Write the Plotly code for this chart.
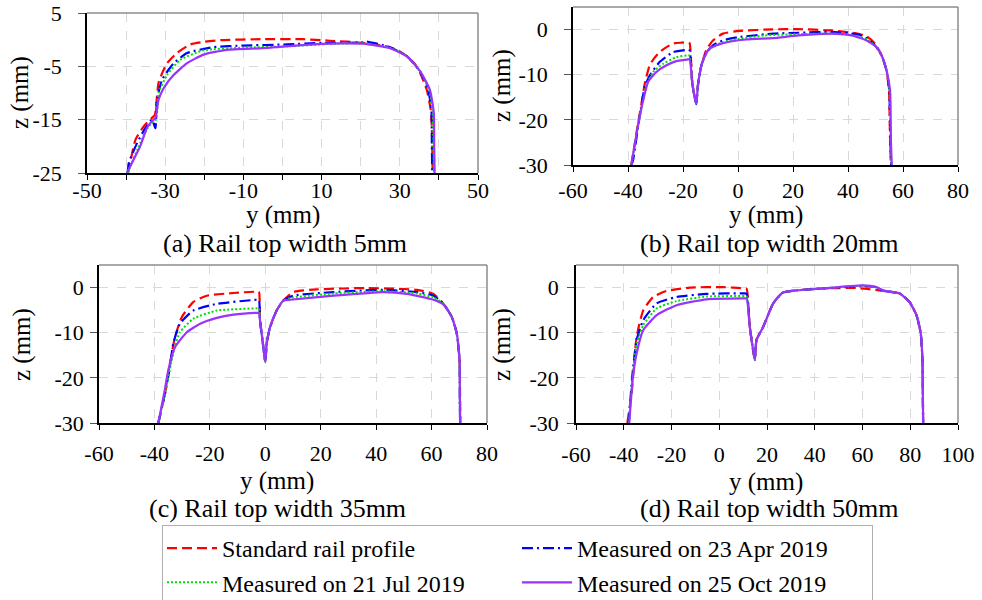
import plotly.graph_objects as go

# ---------------- data (y = lateral position, z = height, mm) ----------------
SERIES_NAMES = ["Standard rail profile", "Measured on 23 Apr 2019",
                "Measured on 21 Jul 2019", "Measured on 25 Oct 2019"]
PANEL_CAPTIONS = ["(a) Rail top width 5mm", "(b) Rail top width 20mm",
                  "(c) Rail top width 35mm", "(d) Rail top width 50mm"]

# Panel (a) 5 mm
A_STD_Y = [-39.5, -38.8, -37.6, -35.5, -33.6, -33.0, -32.6, -31.7, -30.5, -29.5, -27.0, -23.6, -20, -15.9, -5, 5, 12.1, 20.7, 26.6, 29.5, 31.8, 33.8, 35.2, 36.9, 37.9, 38.2, 38.3, 38.4]
A_STD_Z = [-25, -22.5, -18.75, -16.25, -14.8, -14.4, -14.0, -8.1, -5.8, -4.4, -2.5, -0.9, -0.4, -0.1, 0.1, 0.1, -0.2, -0.6, -1.25, -2.0, -3.1, -4.5, -6.25, -9.4, -13.1, -16.5, -20, -25]
A_APR_Y = [-39.6, -39.3, -37.2, -35.1, -33.4, -32.5, -32.3, -32.1, -30.8, -29.0, -27.8, -24.4, -17.6, -10, 1.2, 10, 20.5, 21, 27, 31.8, 35.2, 37.3, 38.1, 38.2, 38.3]
A_APR_Z = [-25, -23.1, -19.4, -16.6, -15.0, -16.6, -14, -11.25, -7.5, -5.5, -4.4, -2.5, -1.4, -1.1, -0.9, -0.6, -0.5, -0.3, -1.3, -3.1, -6.0, -9.5, -13.5, -20, -25]
A_JUL_Y = [-39.6, -38.9, -36.4, -34.5, -33.0, -32.3, -31.7, -29.5, -26.1, -20.2, -10, 1.2, 12, 20.7, 27.3, 31.8, 35.2, 37.5, 38.4, 38.6, 38.7]
A_JUL_Z = [-25, -23.75, -19.4, -16.6, -15.3, -15.0, -10, -6.6, -3.75, -2.0, -1.5, -1.25, -0.8, -0.7, -1.5, -3.1, -6.0, -9.5, -13.5, -20, -25]
A_OCT_Y = [-39.8, -38.1, -36.4, -34.7, -33.4, -32.5, -31.7, -30.4, -27.8, -24.4, -20.2, -14.2, -5, 0, 10, 15, 20.7, 27.5, 31.8, 35.2, 37.7, 38.7, 38.8, 38.9]
A_OCT_Z = [-25, -22.5, -20, -16.6, -15.3, -14.7, -11.25, -9.1, -6.6, -4.4, -2.8, -1.9, -1.6, -1.3, -0.8, -0.7, -0.75, -1.6, -3.1, -5.9, -9.4, -13.75, -20, -25]

# Panel (b) 20 mm
B_STD_Y = [-38.8, -37.6, -36.4, -35.2, -33.9, -32.1, -30.3, -28.5, -26, -23.6, -20.5, -18.2, -17.6, -16.6, -15.2, -14.5, -13.3, -11.5, -9.1, -5.5, 0.6, 12.7, 21.9, 34, 42.5, 46.8, 49.8, 52.2, 54, 54.9, 55.3, 55.6]
B_STD_Z = [-30, -25.5, -20.9, -16.8, -12, -7.9, -6.2, -5, -3.9, -3.1, -2.9, -2.8, -3.0, -12, -16.3, -12, -7.9, -4.5, -2.4, -0.9, -0.3, 0.05, 0.1, -0.2, -0.8, -1.5, -3.1, -5.7, -9, -13.5, -24.6, -30]
B_APR_Y = [-38.8, -38.2, -35.8, -33.9, -32.1, -28.5, -23.6, -18.2, -17.6, -16.6, -15.2, -14.5, -13.3, -11.5, -9.1, -5.5, 0, 12.7, 22, 34, 43.7, 47, 49.8, 52.2, 54, 55, 55.4, 55.7]
B_APR_Z = [-30, -29, -19.4, -12.7, -10.2, -7.2, -5, -4.5, -4.6, -12, -16.5, -12, -7.9, -5.1, -3.5, -2.4, -1.7, -0.9, -0.7, -0.5, -1.1, -2.0, -3.5, -5.7, -9, -13.5, -24.6, -30]
B_JUL_Y = [-38.8, -36, -33.3, -30.9, -27.3, -22.4, -18.2, -17.6, -16.6, -15.2, -14.5, -13.3, -11.5, -9.1, -5.5, 0, 9.8, 22, 34, 43, 47, 50, 52.2, 54, 55.1, 55.5, 55.8]
B_JUL_Z = [-30, -20, -12.4, -9.4, -7.6, -6.1, -5.7, -5.8, -12, -16.3, -12, -7.9, -5.1, -3.8, -2.8, -2.1, -1.3, -1.0, -0.9, -1.4, -2.2, -3.7, -5.7, -9, -13.5, -24.6, -30]
B_OCT_Y = [-38.8, -35.8, -33.9, -32.7, -29.7, -26, -22.4, -18.2, -17.6, -16.6, -15.2, -14.5, -13.3, -12.7, -10.3, -5.5, 3, 12.7, 22, 34, 41.3, 46.8, 50.4, 52.2, 54, 55.3, 55.6, 55.9]
B_OCT_Z = [-30, -19.4, -14.2, -11.6, -9.4, -7.9, -7, -6.6, -6.5, -12, -16.3, -12, -7.9, -6.8, -4.2, -3, -2.2, -1.9, -1.3, -0.9, -1.3, -2.4, -3.9, -5.7, -9, -13.5, -24.6, -30]

# Panel (c) 35 mm
C_STD_Y = [-38.6, -36.2, -34.4, -32.6, -30.1, -26, -21.1, -11.5, -3.1, -2.3, -1.9, -0.7, 0, 0.5, 1.7, 4.1, 6.5, 10.1, 18.6, 36.6, 54.7, 60.7, 64.3, 67.3, 69.1, 70.1, 70.3, 70.4]
C_STD_Z = [-30, -23.5, -16.8, -11, -6.5, -3.2, -1.8, -1.2, -0.9, -0.9, -7.3, -13.2, -16.5, -12.4, -8.8, -5.1, -2.9, -1.0, -0.4, -0.1, -0.5, -1.4, -3.6, -6.5, -10.2, -16.1, -25, -30]
C_APR_Y = [-38.6, -36.2, -34.4, -33.2, -30.8, -26, -17.5, -3.1, -2.3, -1.9, -0.7, 0, 0.5, 1.7, 4.1, 6.5, 10.1, 24.6, 42.6, 54.7, 60.7, 64.3, 67.3, 69.1, 70.1, 70.2, 70.3]
C_APR_Z = [-30, -23.5, -17.5, -12.4, -8, -5.1, -3.6, -2.7, -2.7, -7.3, -13.2, -16.5, -12.4, -8.8, -5.1, -2.9, -1.8, -1.0, -0.5, -1.0, -1.8, -3.6, -6.5, -10.2, -16.1, -25, -30]
C_JUL_Y = [-38.6, -36.2, -34.4, -32.6, -30.8, -26, -17.5, -3.1, -2.3, -1.9, -0.7, 0, 0.5, 1.7, 4.1, 6.5, 10.1, 24.6, 42.6, 54.7, 60.7, 64.3, 67.3, 69.1, 70.1, 70.2, 70.3]
C_JUL_Z = [-30, -23.5, -18, -13, -9.9, -6.9, -5.1, -4.6, -4.6, -7.3, -13.2, -16.5, -12.4, -8.8, -5.1, -2.9, -2.2, -1.3, -0.8, -1.3, -2.2, -3.6, -6.5, -10.2, -16.1, -25, -30]
C_OCT_Y = [-38.6, -36.2, -35, -32.6, -28.3, -23.5, -17.5, -11.5, -3.1, -2.3, -1.9, -0.7, 0, 0.5, 1.7, 4.1, 6.5, 9, 24.6, 42.6, 51.1, 60.7, 64.3, 67.3, 69.1, 70.1, 70.2, 70.3]
C_OCT_Z = [-30, -22.5, -18.3, -13.2, -9.9, -8, -6.7, -6, -5.6, -5.6, -7.3, -13.2, -16.5, -12.4, -8.8, -5.1, -2.9, -2.7, -1.8, -1.0, -1.4, -2.7, -3.8, -6.5, -10.2, -16.1, -25, -30]

# Panel (d) 50 mm
D_STD_Y = [-38.5, -36.7, -34.6, -31.8, -27.7, -22.1, -12.3, 1.6, 10.7, 11.5, 12.8, 14.9, 15.6, 18.4, 22.6, 26.7, 43.5, 57.4, 62, 68.6, 75.6, 79.7, 82.6, 84.4, 85.1, 85.3, 85.4]
D_STD_Z = [-30, -23.4, -10.9, -5, -2.1, -0.75, 0, 0.1, -0.2, -0.3, -8.7, -16, -11.6, -8.7, -3.5, -1.1, -0.2, -0.1, -0.3, -0.75, -1.3, -3.2, -6.1, -10.2, -16, -25, -30]
D_APR_Y = [-37.9, -36.5, -34.6, -31.8, -26.2, -17.9, -5.3, 10.7, 11.5, 12.8, 14.9, 15.6, 18.4, 22.6, 26.7, 43.5, 60.2, 65.8, 68.6, 75.6, 79.7, 82.6, 84.4, 85.1, 85.3, 85.4]
D_APR_Z = [-30, -20, -11.6, -7.2, -3.5, -2.1, -1.4, -1.3, -1.4, -8.7, -16, -11.6, -8.7, -3.5, -1.1, -0.2, 0.3, 0.1, -0.7, -1.3, -3.2, -6.1, -10.2, -16, -25, -30]
D_JUL_Y = [-37.8, -36.3, -34.6, -31.8, -26.2, -17.9, -5.3, 10.7, 11.5, 12.8, 14.9, 15.6, 18.4, 22.6, 26.7, 43.5, 60.2, 65.8, 68.6, 75.6, 79.7, 82.6, 84.4, 85.1, 85.3, 85.4]
D_JUL_Z = [-30, -20, -12.5, -8.3, -4.6, -3, -2, -1.9, -2, -8.7, -16, -11.6, -8.7, -3.5, -1.1, -0.2, 0.4, 0.1, -0.6, -1.3, -3.2, -6.1, -10.2, -16, -25, -30]
D_OCT_Y = [-37.7, -36.2, -34.6, -31.8, -26.2, -17.9, -5.3, 10.7, 11.5, 12.8, 14.9, 15.6, 18.4, 22.6, 26.7, 43.5, 60.2, 65.8, 68.6, 75.6, 79.7, 82.6, 84.4, 85.1, 85.3, 85.4]
D_OCT_Z = [-30, -20, -14.6, -9.4, -6.1, -3.9, -2.6, -2.4, -2.4, -8.7, -16, -11.6, -8.7, -3.5, -1.1, -0.2, 0.5, 0.1, -0.6, -1.3, -3.2, -6.1, -10.2, -16, -25, -30]

# axis ticks
A_XTICKS = [-50, -40, -30, -20, -10, 0, 10, 20, 30, 40, 50]
A_XLABELS = ["-50", "", "-30", "", "-10", "", "10", "", "30", "", "50"]
A_YTICKS = [5, -5, -15, -25]
A_YLABELS = ["5", "-5", "-15", "-25"]
B_XTICKS = [-60, -40, -20, 0, 20, 40, 60, 80]
C_XTICKS = [-60, -40, -20, 0, 20, 40, 60, 80]
D_XTICKS = [-60, -40, -20, 0, 20, 40, 60, 80, 100]
BCD_YTICKS = [0, -10, -20, -30]

# ---------------- styling ----------------
FONT = "Times New Roman, Liberation Serif, DejaVu Serif, serif"
STYLES = [
    dict(color="#FF0000", width=2.2, dash="10px,5px"),
    dict(color="#0000FF", width=2.2, dash="11px,4px,2px,4px"),
    dict(color="#00E000", width=2, dash="2px,2px"),
    dict(color="#9933FF", width=2.2, dash="solid"),
]

panels = [
    [(A_STD_Y, A_STD_Z), (A_APR_Y, A_APR_Z), (A_JUL_Y, A_JUL_Z), (A_OCT_Y, A_OCT_Z)],
    [(B_STD_Y, B_STD_Z), (B_APR_Y, B_APR_Z), (B_JUL_Y, B_JUL_Z), (B_OCT_Y, B_OCT_Z)],
    [(C_STD_Y, C_STD_Z), (C_APR_Y, C_APR_Z), (C_JUL_Y, C_JUL_Z), (C_OCT_Y, C_OCT_Z)],
    [(D_STD_Y, D_STD_Z), (D_APR_Y, D_APR_Z), (D_JUL_Y, D_JUL_Z), (D_OCT_Y, D_OCT_Z)],
]

W, H = 982, 600
# plot-area pixel boxes (left, right, top, bottom)
BOXES = [(87, 478, 13, 173), (573, 958, 7, 165), (99, 487, 265, 423), (576, 958, 265, 423)]
X_STANDOFF = [-8, 0, 5, 6]
Y_STANDOFF = [12, 12, 2, 4]

fig = go.Figure()
for p, series in enumerate(panels):
    ax = "" if p == 0 else str(p + 1)
    for s, (yy, zz) in enumerate(series):
        fig.add_trace(go.Scatter(
            x=yy, y=zz, mode="lines", name=SERIES_NAMES[s],
            line=dict(**STYLES[s], shape="spline", smoothing=0.5),
            xaxis="x" + ax, yaxis="y" + ax,
            showlegend=(p == 0), legendgroup=SERIES_NAMES[s]))

def xaxis(p, rng, vals, texts):
    l, r, t, b = BOXES[p]
    return dict(domain=[l / W, r / W], range=rng, tickvals=vals, ticktext=texts,
                showgrid=True, gridcolor="#D9D9D9", griddash="dash", gridwidth=1,
                showline=True, linecolor="black", linewidth=1.5, mirror=False,
                ticks="outside", ticklen=5, tickcolor="black", zeroline=False,
                ticklabelstandoff=X_STANDOFF[p],
                tickfont=dict(family=FONT, size=22, color="black"))

def yaxis(p, rng, vals, texts, anchor):
    l, r, t, b = BOXES[p]
    return dict(domain=[1 - b / H, 1 - t / H], range=rng, tickvals=vals, ticktext=texts,
                showgrid=True, gridcolor="#D9D9D9", griddash="dash", gridwidth=1,
                showline=True, linecolor="black", linewidth=1.5, mirror=False,
                ticks="outside", ticklen=7, tickcolor="#555555", zeroline=False,
                anchor=anchor, ticklabelstandoff=Y_STANDOFF[p],
                tickfont=dict(family=FONT, size=22, color="black"))

lab = lambda v: [str(x) for x in v]
fig.update_layout(
    xaxis=dict(xaxis(0, [-50, 50], A_XTICKS, A_XLABELS), anchor="y"),
    yaxis=yaxis(0, [-25, 5], A_YTICKS, A_YLABELS, "x"),
    xaxis2=dict(xaxis(1, [-60, 80], B_XTICKS, lab(B_XTICKS)), anchor="y2"),
    yaxis2=yaxis(1, [-30, 5], BCD_YTICKS, lab(BCD_YTICKS), "x2"),
    xaxis3=dict(xaxis(2, [-60, 80], C_XTICKS, lab(C_XTICKS)), anchor="y3"),
    yaxis3=yaxis(2, [-30, 5], BCD_YTICKS, lab(BCD_YTICKS), "x3"),
    xaxis4=dict(xaxis(3, [-60, 100], D_XTICKS, lab(D_XTICKS)), anchor="y4"),
    yaxis4=yaxis(3, [-30, 5], BCD_YTICKS, lab(BCD_YTICKS), "x4"),
)

# grey top/right frame lines
shapes = []
for p in range(4):
    ax = "" if p == 0 else str(p + 1)
    shapes.append(dict(type="line", xref="x%s domain" % ax, yref="y%s domain" % ax,
                       x0=0, x1=1, y0=1, y1=1, line=dict(color="#8C8C8C", width=1.5)))
    shapes.append(dict(type="line", xref="x%s domain" % ax, yref="y%s domain" % ax,
                       x0=1, x1=1, y0=0, y1=1, line=dict(color="#8C8C8C", width=1.5)))

ann = []
TITLE_POS = [  # (x-title cx, cy, caption cx, cy, z-title cx, cy)
    (283, 215, 285, 243, 20, 93),
    (766, 215, 769, 243, 502, 86),
    (277, 481, 277, 508, 22, 345),
    (766, 482, 769, 508, 502, 345),
]
for p, (xc, xy, cc, cy, zc, zy) in enumerate(TITLE_POS):
    ann.append(dict(text="y (mm)", x=xc / W, y=1 - xy / H, xref="paper", yref="paper",
                    xanchor="center", yanchor="middle",
                    showarrow=False, font=dict(family=FONT, size=25, color="black")))
    ann.append(dict(text=PANEL_CAPTIONS[p], x=cc / W, y=1 - cy / H, xref="paper", yref="paper",
                    xanchor="center", yanchor="middle",
                    showarrow=False, font=dict(family=FONT, size=26, color="black")))
    ann.append(dict(text="z (mm)", x=zc / W, y=1 - zy / H, xref="paper", yref="paper",
                    xanchor="center", yanchor="middle",
                    showarrow=False, textangle=-90, font=dict(family=FONT, size=25, color="black")))

fig.update_layout(
    width=W, height=H, margin=dict(l=0, r=0, t=0, b=0, autoexpand=False),
    paper_bgcolor="white", plot_bgcolor="white",
    shapes=shapes, annotations=ann,
    legend=dict(orientation="h", x=162 / W, xanchor="left", y=1 - 525 / H, yanchor="top",
                entrywidth=290, entrywidthmode="pixels", itemwidth=50,
                bordercolor="#B0B0B0", borderwidth=1, bgcolor="white",
                font=dict(family=FONT, size=24, color="black"), tracegroupgap=0),
)

fig.write_html("out.html", config={"displayModeBar": False},
               post_script="document.body.style.margin='0';document.body.style.overflow='hidden';")
